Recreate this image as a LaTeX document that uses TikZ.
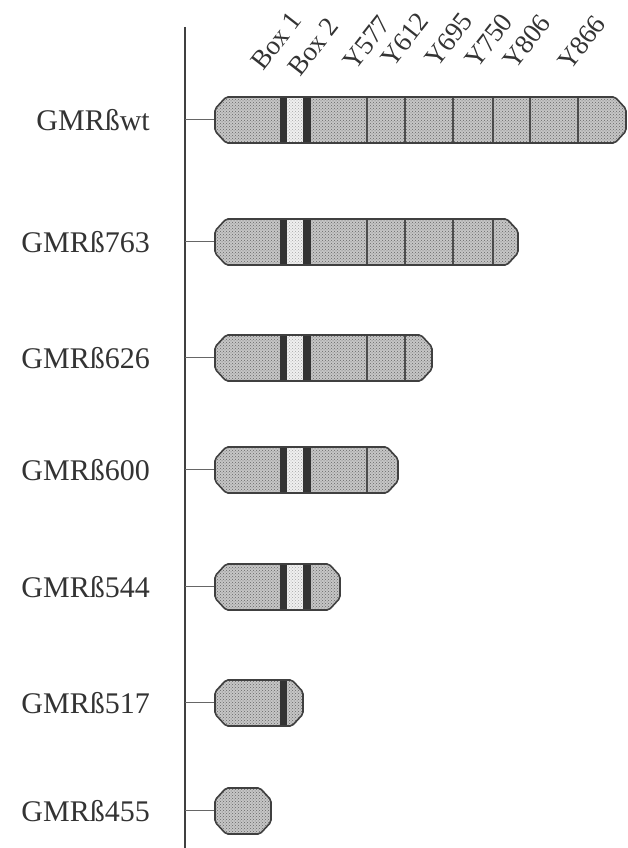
\documentclass[tikz,border=0pt]{standalone}
\usepackage{fontspec}
\setmainfont{Liberation Serif}
\usetikzlibrary{patterns}

% contour d'une construction : #1 options, #2 hauteur, #3 extremite droite
\newcommand{\gmrshape}[3]{%
  \path[#1, rounded corners=2pt] (215,#2-11) -- (215,#2+11) -- (226,#2+23)
    -- (#3-11,#2+23) -- (#3,#2+11) -- (#3,#2-11) -- (#3-11,#2-23)
    -- (226,#2-23) -- cycle;}

\tikzset{
  axisline/.style={line width=2.5pt, black!75},
  link/.style={line width=1pt, black!60},
  construct/.style={fill=gray!45},
  stipple/.style={pattern=crosshatch dots, pattern color=black!60},
  outline/.style={draw=black!75, line width=1.6pt},
  boxband/.style={fill=black!80},
  lightband/.style={fill=gray!12},
  tyrline/.style={draw=black!70, line width=1.4pt},
  rowlabel/.style={anchor=east, inner sep=0pt, text=black!80,
    font=\fontsize{30}{36}\selectfont},
  sitelabel/.style={anchor=base west, rotate=52, inner sep=0pt, text=black!80,
    font=\fontsize{27}{32}\selectfont},
}

\begin{document}
\begin{tikzpicture}[x=1pt,y=1pt]
    \useasboundingbox (0,0) rectangle (628,848);
    % Axe vertical
    \coordinate (axtop) at (185,821);
    \coordinate (axbot) at (185,0);
    \draw[axisline] (axtop) -- (axbot);
    % Sites (Box 1, Box 2, tyrosines)
    \foreach \site/\sx/\sy [count=\i] in {Box 1/263/776, Box 2/300/770,
        Y577/355/776, Y612/393/779, Y695/437/779, Y750/477/778,
        Y806/515/777, Y866/570/776} {
        \node[sitelabel] (site\i) at (\sx,\sy) {\site};
    }
    % Constructions
    \foreach \name/\yy/\rr in {wt/728/626, 763/606/518, 626/490/432,
        600/378/398, 544/261/340, 517/145/303, 455/37/271} {
        \coordinate (ax-\name) at (185,\yy);
        \coordinate (\name-l) at (215,\yy);
        \node[rowlabel] (lab-\name) at (150,\yy) {GMRß\name};
        \draw[link] (ax-\name) -- (\name-l);
        \begin{scope}
            \gmrshape{clip}{\yy}{\rr}
            \gmrshape{construct}{\yy}{\rr}
            \gmrshape{stipple}{\yy}{\rr}
            % Box 1 / Box 2
            \ifnum\rr>320
                \fill[lightband] (287,\yy-30) rectangle (303,\yy+30);
                \fill[pattern=crosshatch dots, pattern color=black!35]
                    (287,\yy-30) rectangle (303,\yy+30);
            \fi
            \fill[boxband] (280,\yy-30) rectangle (287,\yy+30);
            \fill[boxband] (303,\yy-30) rectangle (311,\yy+30);
            % Tyrosines
            \foreach \tx in {367,405,453,493,530,578} {
                \draw[tyrline] (\tx,\yy-30) -- (\tx,\yy+30);
            }
        \end{scope}
        \gmrshape{outline}{\yy}{\rr}
    }
\end{tikzpicture}
\end{document}
